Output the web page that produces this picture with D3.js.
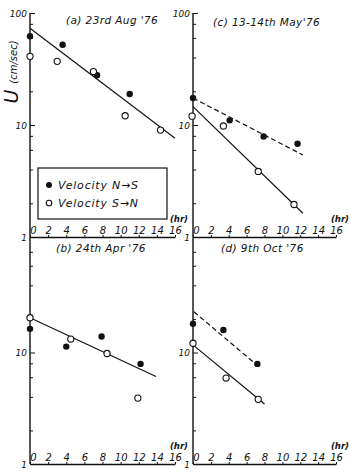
<!DOCTYPE html>
<html><head><meta charset="utf-8">
<script src="https://cdn.jsdelivr.net/npm/d3@7/dist/d3.min.js"></script>
<style>
html,body{margin:0;padding:0;background:#fff;}
svg text{font-family:"DejaVu Sans","Liberation Sans",sans-serif;font-style:italic;fill:#111;}
</style></head>
<body><svg id="c" width="350" height="473"></svg>
<script>
// ---- data ----
const panelTitles = ["(a) 23rd Aug '76", "(c) 13-14th May'76", "(b) 24th Apr '76", "(d) 9th Oct '76"];
const xTicks = [0, 2, 4, 6, 8, 10, 12, 14, 16];
const yTicks = [1, 2, 4, 6, 8, 10, 20, 40, 60, 80, 100];
const legendLabels = ["Velocity  N\u2192S", "Velocity  S\u2192N"];

// (a) 23rd Aug '76
const aNS_t = [0, 3.6, 7.4, 11.0];
const aNS_v = [62, 52, 27.8, 18.9];
const aSN_t = [0, 3.0, 7.0, 10.5, 14.4];
const aSN_v = [41, 37, 30, 12.1, 9.0];
const aFit_t = [0, 16];
const aFit_v = [73, 7.6];

// (c) 13-14th May '76
const cNS_t = [0, 4.1, 7.9, 11.7];
const cNS_v = [17.4, 11.0, 7.9, 6.8];
const cSN_t = [-0.1, 3.4, 7.3, 11.3];
const cSN_v = [12.0, 9.8, 3.85, 1.95];
const cFitNS_t = [0, 12.3];
const cFitNS_v = [17.4, 5.4];
const cFitSN_t = [0, 12.3];
const cFitSN_v = [14.6, 1.63];

// (b) 24th Apr '76
const bNS_t = [0, 4.0, 7.9, 12.2];
const bNS_v = [16.3, 11.3, 13.9, 7.9];
const bSN_t = [0, 4.5, 8.5, 11.9];
const bSN_v = [20.5, 13.2, 9.8, 3.9];
const bFit_t = [0, 13.9];
const bFit_v = [20.5, 6.1];

// (d) 9th Oct '76
const dNS_t = [0, 3.4, 7.2];
const dNS_v = [18.1, 15.9, 7.9];
const dSN_t = [0, 3.7, 7.3];
const dSN_v = [12.1, 5.9, 3.8];
const dFitNS_t = [0.1, 7.5];
const dFitNS_v = [23.2, 7.3];
const dFitSN_t = [0, 8.0];
const dFitSN_v = [11.7, 3.45];

// ---- layout ----
const svg = d3.select("#c");
const zip = (t, v) => t.map((d, i) => [d, v[i]]);

const panels = [
  {title: panelTitles[0], xr: [30, 175], yr: [237, 13], top: true, titleX: 66, titleY: 24,
   ns: zip(aNS_t, aNS_v), sn: zip(aSN_t, aSN_v), fits: [{p: zip(aFit_t, aFit_v), dash: null}]},
  {title: panelTitles[1], xr: [193, 336], yr: [237, 13], top: true, titleX: 213, titleY: 26,
   ns: zip(cNS_t, cNS_v), sn: zip(cSN_t, cSN_v),
   fits: [{p: zip(cFitNS_t, cFitNS_v), dash: "5,3"}, {p: zip(cFitSN_t, cFitSN_v), dash: null}]},
  {title: panelTitles[2], xr: [30, 175], yr: [464, 241], top: false, titleX: 56, titleY: 252,
   ns: zip(bNS_t, bNS_v), sn: zip(bSN_t, bSN_v), fits: [{p: zip(bFit_t, bFit_v), dash: null}]},
  {title: panelTitles[3], xr: [193, 336], yr: [464, 241], top: false, titleX: 221, titleY: 252,
   ns: zip(dNS_t, dNS_v), sn: zip(dSN_t, dSN_v),
   fits: [{p: zip(dFitNS_t, dFitNS_v), dash: "5,3"}, {p: zip(dFitSN_t, dFitSN_v), dash: null}]}
];

panels.forEach(P => {
  const x = d3.scaleLinear().domain([0, 16]).range(P.xr);
  const y = d3.scaleLog().domain([1, 100]).range(P.yr);
  const g = svg.append("g");

  // y axis (ticks inside, labels outside)
  const yAxis = d3.axisLeft(y).tickValues(yTicks).tickSize(-3).tickPadding(3)
    .tickFormat(d => (d === 1 || d === 10 || (d === 100 && P.top)) ? String(d) : "");
  const ya = g.append("g").attr("transform", `translate(${P.xr[0]},0)`).call(yAxis);
  ya.select(".domain").remove();
  ya.selectAll(".tick line").attr("stroke", "#111").attr("stroke-width", 1)
    .attr("x2", d => (d === 10 || d === 100) ? 5 : 3);
  ya.selectAll(".tick text").style("font-size", "9px").attr("dy", "0.35em");
  if (!P.top) ya.selectAll(".tick").filter(d => d === 100).remove();
  g.append("line").attr("x1", P.xr[0]).attr("x2", P.xr[0])
    .attr("y1", P.top ? P.yr[1] : 237).attr("y2", P.yr[0])
    .attr("stroke", "#111").attr("stroke-width", 1.4);

  // x axis at bottom, ticks upward, labels above
  const xAxis = d3.axisTop(x).tickValues(xTicks).tickSize(2).tickSizeOuter(0).tickPadding(1)
    .tickFormat(d3.format("d"));
  const xa = g.append("g").attr("transform", `translate(0,${P.yr[0]})`).call(xAxis);
  xa.select(".domain").attr("stroke", "#111").attr("stroke-width", 1.4);
  xa.selectAll(".tick line").attr("stroke", "#111");
  xa.selectAll(".tick text").style("font-size", "10px").attr("dx", d => d === 0 ? 3 : 0);
  g.append("text").attr("x", P.xr[1] + 13).attr("y", P.yr[0] - 15)
    .attr("text-anchor", "end")
    .style("font-size", "8.5px").style("font-weight", "bold").text("(hr)");

  // title
  g.append("text").attr("x", P.titleX).attr("y", P.titleY)
    .style("font-size", "10.5px").style("letter-spacing", "0.4px").text(P.title);

  // fit lines
  const line = d3.line().x(d => x(d[0])).y(d => y(d[1]));
  P.fits.forEach(f => {
    g.append("path").attr("d", line(f.p)).attr("fill", "none").attr("stroke", "#111")
      .attr("stroke-width", 1.2).attr("stroke-dasharray", f.dash);
  });

  // points
  g.selectAll("circle.ns").data(P.ns).enter().append("circle").attr("class", "ns")
    .attr("cx", d => x(d[0])).attr("cy", d => y(d[1])).attr("r", 3.2).attr("fill", "#111");
  g.selectAll("circle.sn").data(P.sn).enter().append("circle").attr("class", "sn")
    .attr("cx", d => x(d[0])).attr("cy", d => y(d[1])).attr("r", 3.1)
    .attr("fill", "#fff").attr("stroke", "#111").attr("stroke-width", 1.1);
});

// y axis title
const yl = svg.append("text").attr("transform", "translate(18,72) rotate(-90)")
  .attr("text-anchor", "middle");
yl.append("tspan").style("font-size", "19px").text("U ");
yl.append("tspan").style("font-size", "10px").attr("dy", "-1").text("(cm/sec)");

// legend
const lg = svg.append("g");
lg.append("rect").attr("x", 38).attr("y", 168).attr("width", 129).attr("height", 51)
  .attr("fill", "#fff").attr("stroke", "#111").attr("stroke-width", 1.2);
lg.append("circle").attr("cx", 49).attr("cy", 185).attr("r", 3).attr("fill", "#111");
lg.append("circle").attr("cx", 49).attr("cy", 203).attr("r", 2.8).attr("fill", "#fff")
  .attr("stroke", "#111").attr("stroke-width", 1.1);
lg.append("text").attr("x", 58).attr("y", 189).style("font-size", "11px")
  .style("letter-spacing", "0.8px").text(legendLabels[0]);
lg.append("text").attr("x", 58).attr("y", 207).style("font-size", "11px")
  .style("letter-spacing", "0.8px").text(legendLabels[1]);
</script></body></html>
